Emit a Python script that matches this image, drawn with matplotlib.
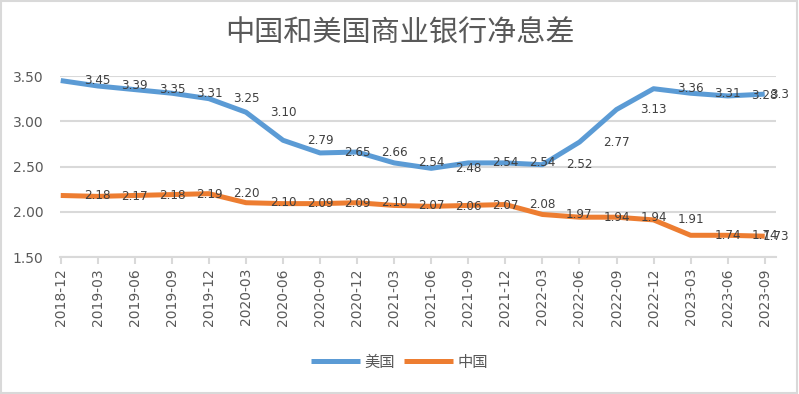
import matplotlib
matplotlib.use('Agg')
import matplotlib.pyplot as plt
from matplotlib.patches import Rectangle

plt.rcParams['font.family'] = ['Noto Sans CJK SC', 'DejaVu Sans']

quarters = ['2018-12', '2019-03', '2019-06', '2019-09', '2019-12',
            '2020-03', '2020-06', '2020-09', '2020-12', '2021-03',
            '2021-06', '2021-09', '2021-12', '2022-03', '2022-06',
            '2022-09', '2022-12', '2023-03', '2023-06', '2023-09']
us_nim = [3.45, 3.39, 3.35, 3.31, 3.25, 3.10, 2.79, 2.65, 2.66, 2.54,
          2.48, 2.54, 2.54, 2.52, 2.77, 3.13, 3.36, 3.31, 3.28, 3.3]
cn_nim = [2.18, 2.17, 2.18, 2.19, 2.20, 2.10, 2.09, 2.09, 2.10, 2.07,
          2.06, 2.07, 2.08, 1.97, 1.94, 1.94, 1.91, 1.74, 1.74, 1.73]
us_labels = ['3.45', '3.39', '3.35', '3.31', '3.25', '3.10', '2.79', '2.65', '2.66', '2.54',
             '2.48', '2.54', '2.54', '2.52', '2.77', '3.13', '3.36', '3.31', '3.28', '3.3']
cn_labels = ['2.18', '2.17', '2.18', '2.19', '2.20', '2.10', '2.09', '2.09', '2.10', '2.07',
             '2.06', '2.07', '2.08', '1.97', '1.94', '1.94', '1.91', '1.74', '1.74', '1.73']
y_ticks = [1.5, 2.0, 2.5, 3.0, 3.5]

blue = '#5B9BD5'
orange = '#ED7D31'
grid_c = '#D9D9D9'
text_c = '#595959'
label_c = '#404040'

fig = plt.figure(figsize=(7.99, 3.94), dpi=100)
ax = fig.add_axes([0.0751, 0.3477, 0.8959, 0.4593])

x = list(range(len(quarters)))
ax.plot(x, us_nim, color=blue, lw=3.6, solid_capstyle='butt', label='美国', zorder=3)
ax.plot(x, cn_nim, color=orange, lw=3.6, solid_capstyle='butt', label='中国', zorder=3)

# data labels sit one category to the right of their point, as in the source
for values, labels in ((us_nim, us_labels), (cn_nim, cn_labels)):
    for i, (v, s) in enumerate(zip(values, labels)):
        if i == len(values) - 1:
            ax.annotate(s, (i + 1, v), xytext=(-9, 0), textcoords='offset points',
                        ha='right', va='center', fontsize=9.5, color=label_c,
                        family='DejaVu Sans', stretch='condensed',
                        annotation_clip=False, zorder=4)
        else:
            ax.text(i + 1, v, s, ha='center', va='center', fontsize=9.5,
                    color=label_c, family='DejaVu Sans', stretch='condensed',
                    clip_on=False, zorder=4)

ax.set_xlim(-0.02, 19.3)
ax.set_ylim(1.5, 3.5)
ax.set_yticks(y_ticks)
ax.set_yticklabels([f'{t:.2f}' for t in y_ticks])
ax.set_xticks(x)
ax.set_xticklabels(quarters, rotation=90)

ax.grid(axis='y', color=grid_c, lw=1.5)
ax.set_axisbelow(True)
for side in ('top', 'right', 'left'):
    ax.spines[side].set_visible(False)
ax.spines['bottom'].set_color(grid_c)
ax.spines['bottom'].set_linewidth(1.5)
ax.tick_params(axis='y', length=0, pad=12, labelsize=10, labelcolor=text_c)
ax.tick_params(axis='x', length=5, width=1.5, color=grid_c, pad=3,
               labelsize=10, labelcolor=text_c)
for lab in ax.get_xticklabels() + ax.get_yticklabels():
    lab.set_family('DejaVu Sans')

fig.text(0.5, 0.915, '中国和美国商业银行净息差', ha='center', va='center',
         fontsize=21, color=text_c)

fig.legend(loc='center', bbox_to_anchor=(0.5, 0.081), ncol=2, frameon=False,
           fontsize=11, labelcolor=text_c, handlelength=3.2, handletextpad=0.3,
           columnspacing=0.6)

fig.patches.append(Rectangle((0.001, 0.002), 0.997, 0.996, transform=fig.transFigure,
                             fill=False, edgecolor=grid_c, lw=1.5))

fig.savefig('out.png', dpi=100)
